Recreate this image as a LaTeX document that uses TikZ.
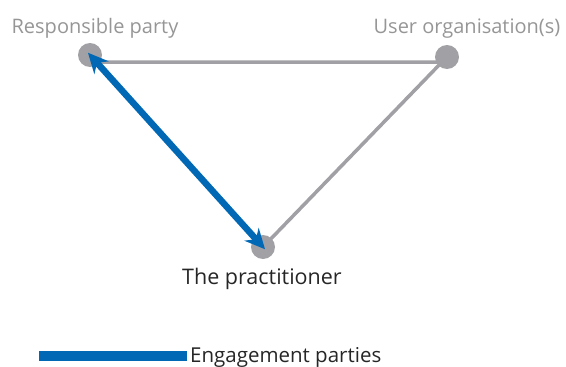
\documentclass[tikz,border=0pt]{standalone}
\usepackage{fontspec}
\setmainfont{Open Sans}
\usetikzlibrary{arrows.meta,positioning}
\definecolor{dotgray}{RGB}{160,160,165}
\definecolor{labelgray}{RGB}{150,150,150}
\definecolor{partyblue}{RGB}{0,104,180}

\begin{document}
\begin{tikzpicture}[x=1pt,y=-1pt,
                party/.style = {circle, fill=dotgray, minimum size=24pt, inner sep=0pt},
                side/.style = {draw=dotgray, line width=3.5pt},
                engage/.style = {draw=partyblue, line width=6.5pt, {Stealth[length=20pt,width=19pt]}-{Stealth[length=20pt,width=19pt]}, shorten <=-3pt, shorten >=-3pt},
                tag/.style = {anchor=base, inner sep=0pt, font=\fontsize{20}{24}\selectfont}]
    \useasboundingbox (0,0) rectangle (566,367);
    \node[party] (R) at (90,55) {};
    \node[party] (U) at (447,57) {};
    \node[party] (P) at (263,247) {};
    \coordinate (corner) at (442,62);
    \draw[side] (R.center |- corner) -- (corner) -- (P.center);
    \draw[engage] (P.center) -- (R.center);
    % labels
    \node[tag, text=labelgray] (Rlab) at (95,33) {Responsible party};
    \node[tag, text=labelgray] (Ulab) at (467,33) {User organisation(s)};
    \node[tag, text=black!85, font=\fontsize{21.5}{24}\selectfont] (Plab) at (262,284) {The practitioner};
    % legend
    \coordinate (key) at (39,356);
    \node[tag, anchor=base west, text=black!85, font=\fontsize{20.5}{24}\selectfont] (Klab) at (190,362) {Engagement parties};
    \draw[partyblue, line width=10pt] (key) -- (key -| 187,0);
\end{tikzpicture}
\end{document}
